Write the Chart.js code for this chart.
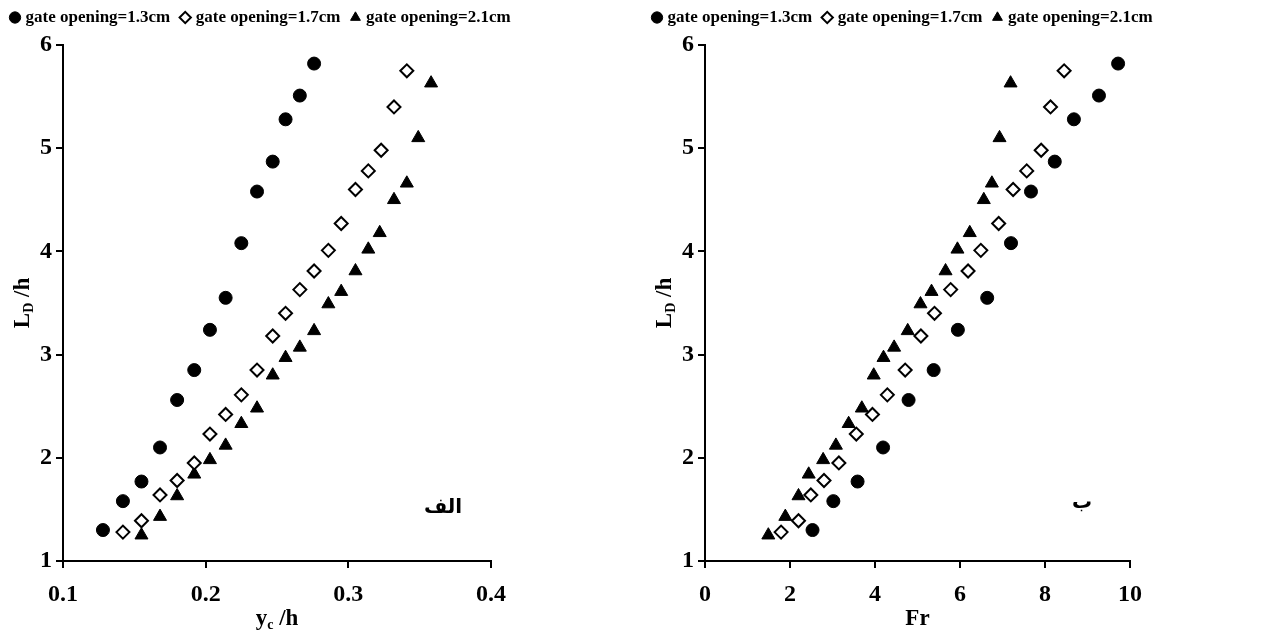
<!DOCTYPE html>
<html>
<head>
<meta charset="utf-8">
<script src="https://cdn.jsdelivr.net/npm/chart.js@4.4.0/dist/chart.umd.min.js"></script>
<style>
  html, body { margin: 0; padding: 0; background: #fff; }
  #wrap { position: relative; width: 1285px; height: 637px; }
  .panel { position: absolute; top: 0; height: 637px; }
  #p1 { left: 0; width: 642px; }
  #p2 { left: 642px; width: 643px; }
</style>
</head>
<body>
<div id="wrap">
  <div class="panel" id="p1"><canvas id="chartA"></canvas></div>
  <div class="panel" id="p2"><canvas id="chartB"></canvas></div>
</div>
<script>
// ---- data ----
const seriesNames = ['gate opening=1.3cm', 'gate opening=1.7cm', 'gate opening=2.1cm'];

// L_D/h (shared by both panels)
const ld13 = [1.30, 1.58, 1.77, 2.10, 2.56, 2.85, 3.24, 3.55, 4.08, 4.58, 4.87, 5.28, 5.51, 5.82];
const ld17 = [1.28, 1.39, 1.64, 1.78, 1.95, 2.23, 2.42, 2.61, 2.85, 3.18, 3.40, 3.63, 3.81, 4.01, 4.27, 4.60, 4.78, 4.98, 5.40, 5.75];
const ld21 = [1.25, 1.43, 1.63, 1.84, 1.98, 2.12, 2.33, 2.48, 2.80, 2.97, 3.07, 3.23, 3.49, 3.61, 3.81, 4.02, 4.18, 4.50, 4.66, 5.10, 5.63];

// yc/h (left panel)
const yc13 = [0.128, 0.142, 0.155, 0.168, 0.180, 0.192, 0.203, 0.214, 0.225, 0.236, 0.247, 0.256, 0.266, 0.276];
const yc17 = [0.142, 0.155, 0.168, 0.180, 0.192, 0.203, 0.214, 0.225, 0.236, 0.247, 0.256, 0.266, 0.276, 0.286, 0.295, 0.305, 0.314, 0.323, 0.332, 0.341];
const yc21 = [0.155, 0.168, 0.180, 0.192, 0.203, 0.214, 0.225, 0.236, 0.247, 0.256, 0.266, 0.276, 0.286, 0.295, 0.305, 0.314, 0.322, 0.332, 0.341, 0.349, 0.358];

// Fr (right panel)
const fr13 = [2.53, 3.02, 3.59, 4.19, 4.79, 5.38, 5.95, 6.64, 7.20, 7.67, 8.23, 8.68, 9.27, 9.72];
const fr17 = [1.79, 2.20, 2.49, 2.80, 3.15, 3.56, 3.94, 4.29, 4.71, 5.08, 5.40, 5.78, 6.19, 6.49, 6.91, 7.25, 7.57, 7.91, 8.13, 8.45];
const fr21 = [1.49, 1.89, 2.20, 2.44, 2.78, 3.08, 3.38, 3.69, 3.97, 4.20, 4.45, 4.77, 5.07, 5.33, 5.66, 5.94, 6.23, 6.56, 6.75, 6.93, 7.19];

// tick labels
const yTicks = [1, 2, 3, 4, 5, 6];
const ycTicks = [0.1, 0.2, 0.3, 0.4];
const frTicks = [0, 2, 4, 6, 8, 10];

// ---- helpers ----
const SERIF = '"Liberation Serif", "Times New Roman", serif';

function zip(xs, ys) {
    return xs.map((x, i) => ({ x: x, y: ys[i] }));
}

function makeDatasets(x13, x17, x21) {
    return [
        { label: seriesNames[0], data: zip(x13, ld13), pointStyle: 'circle', pointRadius: 6.5,
          backgroundColor: '#000', borderColor: '#000', borderWidth: 1 },
        { label: seriesNames[1], data: zip(x17, ld17), pointStyle: 'rectRot', pointRadius: 6.5,
          backgroundColor: '#fff', borderColor: '#000', borderWidth: 2 },
        { label: seriesNames[2], data: zip(x21, ld21), pointStyle: 'triangle', pointRadius: 7.5,
          backgroundColor: '#000', borderColor: '#000', borderWidth: 1 }
    ];
}

// draws text made of [string, isSubscript] parts, centred on (0,0)
function drawParts(ctx, parts, size) {
    const big = 'bold ' + size + 'px ' + SERIF;
    const small = 'bold ' + Math.round(size * 0.62) + 'px ' + SERIF;
    let total = 0;
    parts.forEach(p => { ctx.font = p[1] ? small : big; total += ctx.measureText(p[0]).width; });
    let x = -total / 2;
    ctx.textAlign = 'left';
    ctx.textBaseline = 'alphabetic';
    parts.forEach(p => {
        ctx.font = p[1] ? small : big;
        ctx.fillText(p[0], x, p[1] ? 12 : 8);
        x += ctx.measureText(p[0]).width;
    });
}

const titlePlugin = {
    id: 'axisTitles',
    beforeInit(chart) {
        // leave a little more room under the legend row
        const lg = chart.legend;
        if (!lg) return;
        const origFit = lg.fit;
        lg.fit = function () {
            origFit.call(this);
            this.height += 9;
        };
    },
    afterDraw(chart, args, opts) {
        const ctx = chart.ctx;
        const a = chart.chartArea;
        ctx.save();
        ctx.fillStyle = '#000';
        // x title
        ctx.save();
        ctx.translate((a.left + a.right) / 2, 617);
        drawParts(ctx, opts.xParts, 23);
        ctx.restore();
        // y title
        ctx.save();
        ctx.translate(21, (a.top + a.bottom) / 2);
        ctx.rotate(-Math.PI / 2);
        drawParts(ctx, opts.yParts, 23);
        ctx.restore();
        // panel tag (Arabic letter)
        ctx.font = 'bold 20px "DejaVu Sans", sans-serif';
        ctx.textAlign = 'center';
        ctx.textBaseline = 'middle';
        ctx.fillText(opts.tag, opts.tagX, opts.tagY);
        ctx.restore();
    }
};

function fixedTicks(list) {
    return function (scale) {
        scale.ticks = list.map(v => ({ value: v }));
    };
}

function makeChart(id, datasets, xMin, xMax, xList, xDigits, rightPad, titles) {
    return new Chart(document.getElementById(id), {
        type: 'scatter',
        data: { datasets: datasets },
        plugins: [titlePlugin],
        options: {
            responsive: true,
            maintainAspectRatio: false,
            animation: false,
            layout: { padding: { left: 0, right: 0, top: -4, bottom: 0 } },
            plugins: {
                legend: {
                    position: 'top',
                    align: 'start',
                    labels: {
                        usePointStyle: true,
                        boxWidth: 4,
                        boxHeight: 8,
                        padding: 13,
                        color: '#000',
                        font: { family: SERIF, size: 17, weight: 'bold' }
                    }
                },
                tooltip: { enabled: false },
                axisTitles: titles
            },
            scales: {
                x: {
                    type: 'linear',
                    min: xMin,
                    max: xMax,
                    afterBuildTicks: fixedTicks(xList),
                    afterFit(scale) { scale.height = 76; },
                    border: { display: true, color: '#000', width: 2 },
                    grid: { drawOnChartArea: false, drawTicks: true, tickLength: 7, color: '#000', lineWidth: 2 },
                    ticks: {
                        color: '#000',
                        padding: 12,
                        font: { family: SERIF, size: 24, weight: 'bold' },
                        callback: v => v.toFixed(xDigits)
                    }
                },
                y: {
                    type: 'linear',
                    min: 1,
                    max: 6,
                    afterBuildTicks: fixedTicks(yTicks),
                    afterFit(scale) { scale.width = 63; },
                    border: { display: true, color: '#000', width: 2 },
                    grid: { drawOnChartArea: false, drawTicks: true, tickLength: 7, color: '#000', lineWidth: 2 },
                    ticks: {
                        color: '#000',
                        padding: 4,
                        font: { family: SERIF, size: 24, weight: 'bold' },
                        callback: v => String(v)
                    }
                },
                // empty box on the right that keeps the white margin without squeezing the legend
                spacer: {
                    type: 'linear',
                    axis: 'y',
                    position: 'right',
                    afterFit(scale) { scale.width = rightPad; },
                    border: { display: false },
                    grid: { display: false, drawTicks: false },
                    ticks: { display: false }
                }
            }
        }
    });
}

makeChart('chartA', makeDatasets(yc13, yc17, yc21), 0.1, 0.4, ycTicks, 1, 151, {
    xParts: [['y', false], ['c', true], [' /h', false]],
    yParts: [['L', false], ['D', true], [' /h', false]],
    tag: 'الف', tagX: 443, tagY: 508
});

makeChart('chartB', makeDatasets(fr13, fr17, fr21), 0, 10, frTicks, 0, 155, {
    xParts: [['Fr', false]],
    yParts: [['L', false], ['D', true], [' /h', false]],
    tag: 'ب', tagX: 440, tagY: 503
});
</script>
</body>
</html>
